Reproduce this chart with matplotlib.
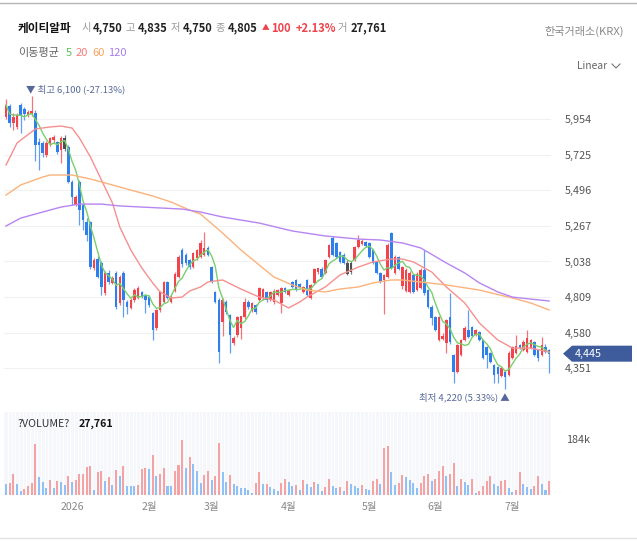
import matplotlib
matplotlib.use("Agg")
import matplotlib.pyplot as plt
import matplotlib.transforms as mtransforms
from matplotlib.lines import Line2D
from matplotlib.patches import Polygon
import numpy as np
import pandas as pd

plt.rcParams['font.family'] = ['Noto Sans CJK KR', 'DejaVu Sans']

# daily candles, index 0 = first visible day
open_ = [
    5967, 6038, 5928, 5903, 6044, 6018, 5980, 5986, 5993, 5806,
    5800, 5723, 5800, 5819, 5806, 5755, 5760, 5774, 5549, 5401,
    5549, 5401, 5292, 5292, 4996, 5054, 5028, 4835, 4964, 4900,
    4964, 4771, 4964, 4780, 4738, 4790, 4803, 4842, 4822, 4810,
    4706, 4610, 4726, 4777, 4906, 4777, 4850, 4938, 5110, 5080,
    5047, 5002, 5060, 5067, 5080, 5125, 5002, 4842, 4790, 4649,
    4777, 4694, 4514, 4565, 4610, 4680, 4777, 4720, 4758, 4790,
    4800, 4842, 4790, 4780, 4822, 4771, 4867, 4822, 4906, 4919,
    4890, 4842, 4919, 4803, 4900, 4970, 4990, 4964, 5067, 5190,
    5157, 5099, 5080, 4960, 4970, 5047, 5131, 5150, 5163, 5157,
    5112, 5034, 4964, 4919, 4938, 5220, 4964, 5067, 4880, 4850,
    4842, 4950, 4854, 4870, 4980, 4854, 4745, 4680, 4533, 4540,
    4514, 4680, 4437, 4327, 4437, 4533, 4597, 4617, 4565, 4585,
    4533, 4488, 4450, 4372, 4360, 4300, 4330, 4308, 4417, 4450,
    4501, 4469, 4456, 4482, 4520, 4469, 4437, 4488, 4469,
]
high = [
    6083, 6050, 5990, 5995, 6055, 6030, 6010, 6100, 6010, 5830,
    5815, 5810, 5840, 5850, 5815, 5845, 5850, 5790, 5560, 5465,
    5560, 5410, 5320, 5300, 5060, 5070, 5040, 4975, 4980, 4945,
    4975, 4950, 4975, 4790, 4800, 4870, 4880, 4850, 4830, 4820,
    4715, 4735, 4850, 4915, 4915, 4820, 4970, 5080, 5125, 5090,
    5055, 5100, 5120, 5176, 5227, 5135, 5010, 4850, 4800, 4800,
    4790, 4700, 4560, 4690, 4690, 4800, 4790, 4780, 4765, 4875,
    4870, 4850, 4850, 4860, 4862, 4875, 4875, 4860, 4915, 4925,
    4900, 4880, 4925, 4895, 4995, 4998, 5000, 5055, 5150, 5200,
    5165, 5105, 5090, 5047, 5040, 5140, 5208, 5185, 5170, 5165,
    5120, 5040, 4970, 4960, 5155, 5230, 5080, 5075, 5010, 4995,
    4975, 4960, 4970, 4995, 5112, 4860, 4755, 4690, 4690, 4575,
    4670, 4835, 4445, 4510, 4540, 4620, 4726, 4625, 4605, 4590,
    4540, 4495, 4455, 4380, 4365, 4360, 4340, 4460, 4495, 4565,
    4510, 4530, 4597, 4540, 4525, 4475, 4552, 4510, 4475,
]
low = [
    5955, 5903, 5883, 5890, 5864, 5950, 5970, 5975, 5684, 5626,
    5710, 5710, 5780, 5800, 5730, 5671, 5750, 5540, 5401, 5395,
    5273, 5240, 5170, 4990, 4985, 4930, 4822, 4825, 4895, 4890,
    4735, 4760, 4680, 4700, 4730, 4780, 4795, 4800, 4706, 4745,
    4533, 4600, 4715, 4770, 4795, 4770, 4840, 4930, 5000, 5015,
    4990, 4995, 5050, 5060, 5070, 5070, 4900, 4770, 4385, 4560,
    4700, 4450, 4500, 4550, 4540, 4670, 4730, 4710, 4700, 4785,
    4790, 4780, 4785, 4765, 4815, 4706, 4835, 4815, 4865, 4845,
    4865, 4835, 4815, 4795, 4895, 4960, 4930, 4955, 5060, 5075,
    5060, 5025, 5020, 4951, 4960, 5040, 5125, 5145, 5130, 5060,
    5020, 4955, 4900, 4700, 4930, 4990, 4955, 4980, 4860, 4840,
    4835, 4835, 4845, 4860, 4820, 4740, 4630, 4590, 4525, 4530,
    4450, 4510, 4256, 4320, 4430, 4525, 4545, 4550, 4560, 4525,
    4410, 4353, 4385, 4256, 4256, 4295, 4220, 4300, 4410, 4445,
    4475, 4460, 4450, 4475, 4430, 4400, 4430, 4450, 4321,
]
close = [
    6044, 5928, 5967, 5980, 5975, 5986, 5999, 6005, 5787, 5790,
    5735, 5800, 5832, 5838, 5742, 5832, 5832, 5549, 5452, 5455,
    5369, 5305, 5208, 5002, 5047, 4938, 4874, 4964, 4906, 4932,
    4745, 4938, 4790, 4745, 4790, 4854, 4867, 4810, 4790, 4758,
    4597, 4726, 4842, 4906, 4803, 4810, 4960, 5067, 5020, 5028,
    5002, 5092, 5112, 5157, 5125, 5080, 4906, 4777, 4456, 4790,
    4713, 4565, 4546, 4681, 4685, 4777, 4745, 4770, 4713, 4867,
    4860, 4790, 4842, 4850, 4854, 4867, 4842, 4854, 4874, 4854,
    4870, 4874, 4822, 4887, 4990, 4993, 4940, 5047, 5144, 5080,
    5067, 5034, 5028, 5028, 5028, 5131, 5176, 5170, 5137, 5067,
    5028, 4964, 4906, 4950, 5144, 4996, 5067, 4990, 5000, 4980,
    4964, 4842, 4960, 4985, 4835, 4745, 4674, 4600, 4681, 4560,
    4662, 4520, 4327, 4501, 4533, 4610, 4552, 4558, 4597, 4533,
    4417, 4437, 4392, 4308, 4315, 4350, 4297, 4450, 4488, 4495,
    4482, 4520, 4546, 4533, 4437, 4417, 4501, 4456, 4445,
]
# volume in thousands of shares
volume = [
    37, 40, 70, 36, 14, 19, 30, 40, 171, 60,
    43, 23, 49, 23, 46, 44, 34, 63, 43, 51,
    70, 71, 94, 97, 18, 77, 80, 46, 60, 34,
    83, 64, 97, 31, 30, 29, 32, 86, 89, 86,
    134, 64, 70, 90, 31, 30, 80, 100, 184, 90,
    127, 104, 80, 40, 67, 80, 51, 64, 174, 77,
    44, 67, 37, 30, 25, 24, 17, 6, 40, 77,
    37, 38, 27, 21, 14, 40, 53, 44, 30, 34,
    18, 49, 37, 27, 43, 36, 14, 26, 53, 30,
    23, 26, 13, 46, 37, 30, 23, 34, 20, 17,
    46, 53, 37, 156, 165, 77, 34, 40, 67, 60,
    50, 40, 23, 40, 64, 70, 47, 55, 80, 98,
    64, 70, 107, 30, 53, 44, 34, 55, 7, 14,
    29, 47, 64, 37, 30, 47, 49, 23, 11, 18,
    77, 37, 27, 20, 30, 64, 37, 18, 47,
]

# moving averages (bar index, price)
ma20_idx = [0, 3, 8, 12, 15, 18, 20, 23, 26, 29, 31, 34, 37, 40, 42, 45, 48, 50, 53, 55, 59,
            64, 69, 73, 77, 80, 82, 87, 91, 96, 100, 105, 108, 111, 116, 120, 125, 129, 134, 138, 143, 148]
ma20_val = [5658, 5800, 5890, 5903, 5909, 5896, 5832, 5710, 5562, 5414, 5260, 5112, 4996, 4899, 4842,
            4803, 4809, 4848, 4874, 4906, 4919, 4861, 4809, 4790, 4739, 4777, 4809, 4874, 4951, 5002,
            5035, 5054, 5054, 5035, 4970, 4874, 4771, 4642, 4533, 4481, 4481, 4456]
ma60_idx = [0, 4, 10, 12, 18, 23, 29, 34, 40, 45, 50, 53, 59, 64, 69, 73, 78, 82, 87, 91, 96,
            100, 105, 108, 113, 120, 129, 138, 143, 148]
ma60_val = [5465, 5530, 5581, 5594, 5594, 5568, 5530, 5497, 5459, 5420, 5369, 5343, 5221, 5112, 5015,
            4938, 4887, 4854, 4842, 4861, 4874, 4900, 4919, 4919, 4906, 4887, 4854, 4803, 4771, 4726]
ma120_idx = [0, 4, 10, 15, 20, 26, 31, 37, 42, 48, 53, 59, 69, 78, 87, 96, 102, 108, 113, 120,
             125, 129, 134, 138, 143, 148]
ma120_val = [5266, 5317, 5356, 5388, 5407, 5407, 5395, 5388, 5382, 5375, 5356, 5324, 5285, 5234, 5202,
             5182, 5176, 5157, 5125, 5028, 4964, 4900, 4842, 4809, 4796, 4784]

month_idx = [18, 39, 56, 77, 99, 117, 138]
month_labels = ['2026', '2월', '3월', '4월', '5월', '6월', '7월']
price_ticks = [4351, 4580, 4809, 5038, 5267, 5496, 5725, 5954]

UP, DOWN, FLAT = '#f0454d', '#2e7fec', '#505050'
VUP, VDOWN = '#f5a2a5', '#8fc0f6'

n = len(close)
x = np.arange(n)
o = np.array(open_)
c = np.array(close)
v = np.array(volume)
prev = np.r_[np.nan, c[:-1]]
cols = np.where(c == prev, FLAT, np.where(c >= o, UP, DOWN))
# volume bars are coloured by the change in volume from the day before
vprev = np.r_[np.inf, v[:-1]]
vcols = np.where(v >= vprev, VUP, VDOWN)

W, H = 637, 541
fig = plt.figure(figsize=(W / 100, H / 100), dpi=100)
ax = fig.add_axes([4 / W, 1 - 405 / H, 547 / W, 325 / H])
axv = fig.add_axes([4 / W, 1 - 495 / H, 547 / W, 83 / H])

# candles
ax.vlines(x, low, high, colors=cols, lw=0.9, alpha=0.75, zorder=2)
body = np.maximum(np.abs(c - o), 4)
ax.bar(x, body, bottom=np.minimum(o, c), width=0.7, color=cols, zorder=3)

ma5 = pd.Series(close).rolling(5, min_periods=1).mean()
ax.plot(x, ma5, color='#78cf6c', lw=1.0, zorder=4)
ax.plot(ma20_idx, ma20_val, color='#f6908f', lw=1.0, zorder=4)
ax.plot(ma60_idx, ma60_val, color='#fcb27c', lw=1.0, zorder=4)
ax.plot(ma120_idx, ma120_val, color='#b785f1', lw=1.0, zorder=4)

ax.set_xlim(-0.55, n - 0.5)
ax.set_ylim(4115, 6205)
ax.set_yticks(price_ticks)
ax.set_yticklabels([f'{t:,}' for t in price_ticks])
ax.yaxis.tick_right()
ax.tick_params(axis='y', length=0, pad=10, labelsize=7.8, labelcolor='#555555')
ax.tick_params(axis='x', length=0, labelbottom=False)
ax.grid(axis='y', color='#f1f1f1', lw=0.8)
ax.set_axisbelow(True)
for s in ax.spines.values():
    s.set_visible(False)

# high / low markers
imax = int(np.argmax(high))
imin = int(np.argmin(low))
ax.annotate(f'▼ 최고 {high[imax]:,} (-27.13%)', xy=(imax, high[imax]), xytext=(-6, 7),
            textcoords='offset pixels', ha='left', va='center', fontsize=6.8, color='#56689a')
ax.annotate(f'최저 {low[imin]:,} (5.33%) ▲', xy=(imin, low[imin]), xytext=(5, -9),
            textcoords='offset pixels', ha='right', va='center', fontsize=6.8, color='#56689a')

# last price tag (arrow box pointing at the axis)
ypx = ax.transData.transform((0, close[-1]))[1]
yf = ypx / H
hh = 8 / H
tag = Polygon([(563 / W, yf), (572 / W, yf + hh), (632 / W, yf + hh), (632 / W, yf - hh), (572 / W, yf - hh)],
              closed=True, transform=fig.transFigure, fc='#3e5b9b', ec='none')
fig.add_artist(tag)
fig.text(575 / W, yf, f'{close[-1]:,}', ha='left', va='center', fontsize=7.8, color='white')

# volume
axv.set_facecolor('#f6f7fb')
axv.vlines(x + 0.5, 0, 300, colors='white', lw=0.6, zorder=0)
axv.bar(x, volume, width=0.55, color=vcols, zorder=2)
axv.set_xlim(-0.55, n - 0.5)
axv.set_ylim(0, 277.7)
axv.set_yticks([])
axv.set_xticks(month_idx)
axv.set_xticklabels(month_labels)
axv.tick_params(axis='x', length=0, pad=5, labelsize=7.6, labelcolor='#888888')
for s in axv.spines.values():
    s.set_visible(False)
trv = mtransforms.blended_transform_factory(axv.transAxes, axv.transData)
axv.text(1 + 15 / 547, max(volume), f'{max(volume)}k', transform=trv, ha='left', va='center',
         fontsize=7.8, color='#555555')

# header texts
def t(px, py, s, **kw):
    fig.text(px / W, 1 - py / H, s, va='center', **kw)

t(18, 28, '케이티알파', fontsize=8.4, fontweight='bold', color='#111111')
pieces = [(81, '시', '4,750'), (126, '고', '4,835'), (171, '저', '4,750'), (216, '종', '4,805')]
for px, lab, val in pieces:
    t(px, 28, lab, fontsize=7.4, color='#999999')
    t(px + 12, 28, val, fontsize=8, fontweight='bold', color='#222222')
t(262, 28, '▲', fontsize=5.5, color='#f0424a')
t(271, 28, '100', fontsize=8, fontweight='bold', color='#f0424a')
t(296, 28, '+2.13%', fontsize=8, fontweight='bold', color='#f0424a')
t(338, 28, '거', fontsize=7.4, color='#999999')
t(351, 28, '27,761', fontsize=8, fontweight='bold', color='#222222')
fig.text(624 / W, 1 - 31 / H, '한국거래소(KRX)', ha='right', va='center', fontsize=8, color='#8a8a8a')

t(18, 53, '이동평균', fontsize=8, color='#666666')
t(66, 53, '5', fontsize=8, color='#5fc153')
t(76, 53, '20', fontsize=8, color='#f47c7c')
t(92, 53, '60', fontsize=8, color='#f8a45e')
t(108, 53, '120', fontsize=8, color='#a97cef')

t(577, 66, 'Linear', fontsize=7.4, color='#666666')
fig.add_artist(Line2D([612 / W, 616 / W, 620 / W], [1 - 64 / H, 1 - 68 / H, 1 - 64 / H],
                      color='#777777', lw=0.8))

t(18, 424, '?VOLUME?', fontsize=7.6, color='#333333')
t(79, 424, '27,761', fontsize=7.6, fontweight='bold', color='#111111')

fig.add_artist(Line2D([0, 1], [1 - 3 / H] * 2, color='#b5b5b5', lw=1))
fig.add_artist(Line2D([0, 1], [1 - 538 / H] * 2, color='#e2e2e2', lw=1))

fig.savefig('out.png', dpi=100, facecolor='white')
